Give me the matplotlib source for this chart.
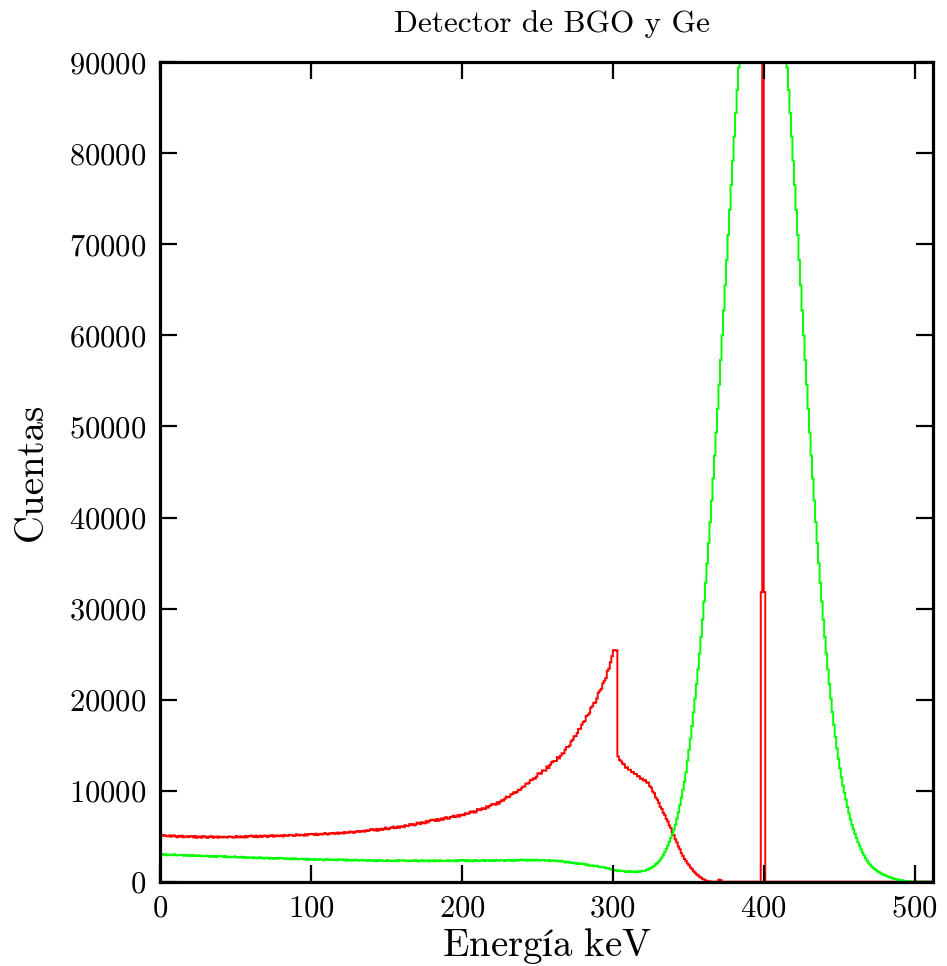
import numpy as np
import matplotlib
matplotlib.use('Agg')
import matplotlib.pyplot as plt
from matplotlib.patches import Rectangle

# Espectros simulados: canales de 1 keV, de 0 a 512 keV
N_CHANNELS = 512
Y_MAX = 90000

# Ge (rojo): continuo Compton, canales 0-371
ge_continuum = [
    5180, 5080, 5040, 5090, 4990, 4990, 5080, 4940, 5050, 5070,
    4970, 4880, 5030, 4950, 5050, 4880, 4970, 4980, 4890, 4960,
    5000, 4980, 4860, 5010, 4820, 4920, 4970, 4830, 4970, 4990,
    4890, 4810, 4970, 4900, 4990, 4820, 4910, 4960, 4820, 4950,
    4910, 4860, 4930, 4900, 4850, 4960, 4940, 4930, 4840, 4840,
    5010, 4920, 4860, 4990, 4890, 4860, 5020, 4870, 4990, 5020,
    5060, 4970, 4920, 5060, 4880, 4970, 5050, 4910, 5020, 5070,
    4980, 4910, 5060, 5010, 5110, 4940, 5030, 5080, 4990, 5050,
    5080, 4970, 5130, 5040, 5030, 5140, 5100, 5110, 5030, 5050,
    5200, 5120, 5070, 5150, 5130, 5050, 5220, 5090, 5200, 5230,
    5250, 5210, 5130, 5270, 5120, 5210, 5250, 5190, 5260, 5340,
    5230, 5180, 5320, 5300, 5360, 5260, 5290, 5390, 5260, 5360,
    5380, 5290, 5450, 5370, 5360, 5500, 5420, 5490, 5370, 5450,
    5570, 5530, 5470, 5560, 5540, 5490, 5640, 5560, 5620, 5720,
    5770, 5700, 5620, 5800, 5600, 5720, 5810, 5680, 5810, 5940,
    5780, 5750, 5930, 5910, 6040, 5870, 5940, 6060, 5910, 6050,
    6080, 5980, 6200, 6110, 6100, 6320, 6240, 6320, 6180, 6270,
    6490, 6420, 6320, 6530, 6470, 6400, 6660, 6510, 6660, 6770,
    6810, 6750, 6680, 6880, 6690, 6820, 6940, 6800, 6960, 7090,
    6940, 6920, 7120, 7100, 7250, 7090, 7160, 7320, 7160, 7330,
    7370, 7290, 7520, 7450, 7460, 7690, 7620, 7730, 7590, 7710,
    7970, 7910, 7850, 8060, 8040, 7990, 8270, 8140, 8320, 8450,
    8520, 8530, 8450, 8720, 8560, 8790, 8950, 8890, 9100, 9330,
    9270, 9310, 9560, 9640, 9820, 9750, 9860, 10090, 10050, 10250,
    10440, 10440, 10760, 10750, 10870, 11150, 11190, 11360, 11300, 11530,
    11890, 11920, 11860, 12220, 12180, 12190, 12660, 12480, 12820, 13090,
    13210, 13240, 13270, 13690, 13540, 13830, 14100, 14080, 14500, 14800,
    14810, 14940, 15430, 15590, 15960, 15990, 16320, 16770, 16790, 17250,
    17540, 17640, 18180, 18300, 18490, 19100, 19270, 19630, 19680, 20120,
    20760, 20990, 21180, 21800, 22070, 22360, 23160, 23400, 24100, 24770,
    25420, 25400, 25420, 13760, 13390, 13230, 12990, 12880, 12520, 12560,
    12300, 12290, 12060, 12010, 11850, 11820, 11580, 11560, 11300, 11330,
    11110, 11160, 10900, 10870, 10500, 10330, 9900, 9720, 9240, 9010,
    8660, 8220, 8000, 7560, 7330, 6900, 6620, 6170, 5890, 5440,
    5110, 4640, 4310, 3860, 3550, 3120, 2830, 2490, 2280, 2010,
    1820, 1560, 1390, 1150, 1000, 820, 690, 540, 440, 310,
    230, 130, 90, 30, 20, 0, 0, 0, 0, 0,
    220, 180,
]
# Ge: fotopico en 399 keV (canales 398-400), se sale de la escala
ge_peak_channels = [398, 399, 400]
ge_peak_counts = [31800, 350000, 31800]

# BGO (verde): canales 0-511
bgo_counts = [
    3050, 2980, 2960, 3020, 2890, 2970, 2970, 2910, 2940, 3010,
    2890, 2890, 2930, 2930, 2950, 2880, 2860, 2950, 2840, 2880,
    2900, 2810, 2920, 2820, 2820, 2880, 2850, 2830, 2780, 2790,
    2860, 2840, 2740, 2810, 2790, 2710, 2840, 2710, 2790, 2820,
    2800, 2790, 2690, 2800, 2660, 2730, 2740, 2680, 2710, 2780,
    2660, 2650, 2700, 2670, 2740, 2620, 2660, 2690, 2610, 2650,
    2660, 2580, 2660, 2620, 2570, 2680, 2600, 2640, 2530, 2580,
    2640, 2610, 2520, 2620, 2550, 2520, 2600, 2530, 2560, 2620,
    2610, 2550, 2500, 2570, 2480, 2500, 2560, 2450, 2530, 2570,
    2460, 2450, 2500, 2500, 2520, 2450, 2440, 2520, 2400, 2480,
    2470, 2390, 2500, 2410, 2410, 2470, 2440, 2450, 2350, 2410,
    2480, 2410, 2380, 2440, 2380, 2360, 2450, 2340, 2430, 2450,
    2440, 2420, 2330, 2440, 2300, 2370, 2400, 2300, 2390, 2420,
    2320, 2310, 2360, 2360, 2380, 2310, 2320, 2360, 2300, 2340,
    2350, 2270, 2350, 2310, 2260, 2370, 2310, 2310, 2260, 2270,
    2370, 2300, 2270, 2330, 2270, 2250, 2350, 2250, 2340, 2360,
    2350, 2330, 2260, 2330, 2250, 2280, 2330, 2270, 2300, 2370,
    2270, 2220, 2330, 2290, 2350, 2280, 2270, 2340, 2230, 2320,
    2310, 2240, 2360, 2280, 2240, 2360, 2300, 2310, 2260, 2270,
    2350, 2320, 2250, 2310, 2300, 2240, 2370, 2250, 2330, 2360,
    2380, 2320, 2270, 2380, 2240, 2310, 2340, 2240, 2330, 2370,
    2270, 2270, 2330, 2320, 2390, 2270, 2310, 2340, 2270, 2350,
    2320, 2280, 2390, 2300, 2300, 2360, 2350, 2350, 2280, 2330,
    2390, 2360, 2290, 2400, 2330, 2300, 2400, 2340, 2370, 2430,
    2420, 2400, 2310, 2420, 2330, 2350, 2410, 2300, 2380, 2420,
    2320, 2310, 2360, 2360, 2380, 2310, 2300, 2380, 2260, 2330,
    2310, 2260, 2320, 2270, 2210, 2310, 2220, 2220, 2110, 2120,
    2200, 2120, 2050, 2100, 2040, 1970, 2050, 1940, 1970, 1990,
    1970, 1910, 1820, 1890, 1750, 1780, 1790, 1690, 1720, 1750,
    1640, 1580, 1630, 1580, 1600, 1470, 1450, 1470, 1340, 1350,
    1300, 1210, 1270, 1190, 1150, 1220, 1160, 1160, 1070, 1090,
    1170, 1110, 1050, 1120, 1080, 1030, 1150, 1060, 1130, 1190,
    1190, 1200, 1300, 1340, 1460, 1510, 1650, 1740, 1910, 2030,
    2200, 2420, 2650, 2950, 3250, 3600, 3980, 4380, 4800, 5250,
    5700, 6250, 6900, 7600, 8400, 9250, 10100, 11000, 12000, 13300,
    14500, 15700, 17100, 18600, 20110, 21680, 23330, 25060, 26880, 28780,
    30770, 32830, 34970, 37190, 39490, 41860, 44290, 46790, 49340, 51950,
    54600, 57290, 60000, 62750, 65510, 68270, 71040, 73790, 76510, 79200,
    81850, 84440, 86970, 89430, 91800, 94080, 96250, 98300, 100230, 102020,
    103670, 105160, 106500, 107680, 108680, 109510, 110160, 110630, 110900, 111000,
    110900, 110630, 110160, 109510, 108680, 107680, 106500, 105160, 103670, 102020,
    100230, 98300, 96250, 94080, 91800, 89430, 86970, 84440, 81850, 79200,
    76510, 73790, 71040, 68270, 65510, 62750, 60000, 57290, 54600, 51950,
    49340, 46790, 44290, 41860, 39490, 37190, 34970, 32830, 30770, 28780,
    26880, 25060, 23330, 21680, 20110, 18620, 17220, 15900, 14650, 13500,
    12450, 11450, 10550, 9750, 9000, 8200, 7500, 6850, 6250, 5750,
    5250, 4800, 4350, 3950, 3550, 3200, 2880, 2580, 2320, 2080,
    1870, 1680, 1520, 1380, 1250, 1140, 1040, 940, 850, 760,
    680, 610, 540, 480, 420, 370, 320, 280, 240, 200,
    170, 140, 110, 80, 60, 40, 25, 15, 5, 0,
    0, 0, 0, 0, 0, 0, 0, 0, 0, 0,
    0, 0,
]

x_ticks = [0, 100, 200, 300, 400, 500]
y_ticks = [0, 10000, 20000, 30000, 40000, 50000, 60000, 70000, 80000, 90000]

plt.rcParams['font.family'] = ['cmr10', 'DejaVu Serif']
plt.rcParams['mathtext.fontset'] = 'cm'
plt.rcParams['axes.formatter.use_mathtext'] = True

ge = np.zeros(N_CHANNELS)
ge[:len(ge_continuum)] = ge_continuum
ge[ge_peak_channels] = ge_peak_counts
bgo = np.array(bgo_counts, dtype=float)
edges = np.arange(N_CHANNELS + 1)

fig = plt.figure(figsize=(9.47, 9.66), dpi=100)
ax = fig.add_axes([0.169, 0.0873, 0.816, 0.8482])

# recorte: dentro de los ejes y justo por encima de cero, para que el tramo
# nulo no asome bajo el borde inferior
for vals, col in [(ge, '#ff0000'), (bgo, '#00ff00')]:
    st = ax.stairs(vals, edges, color=col, lw=1.4)
    clip = Rectangle((0, 120), N_CHANNELS, Y_MAX - 120, transform=ax.transData)
    st.set_clip_path(clip)

ax.set_xlim(0, N_CHANNELS)
ax.set_ylim(0, Y_MAX)
ax.set_xticks(x_ticks)
ax.set_yticks(y_ticks)
ax.tick_params(direction='in', length=12, width=1.6, top=True, right=True,
               labelsize=22, pad=10)
for sp in ax.spines.values():
    sp.set_linewidth(2.3)
    sp.set_zorder(5)

ax.set_title('Detector de BGO y Ge', fontsize=22.5, pad=22, x=0.507)
ax.set_xlabel(r'$\mathrm{Energía\ keV}$', fontsize=28, labelpad=2)
ax.set_ylabel('Cuentas', fontsize=28, labelpad=14)

fig.savefig('out.png', dpi=100)
